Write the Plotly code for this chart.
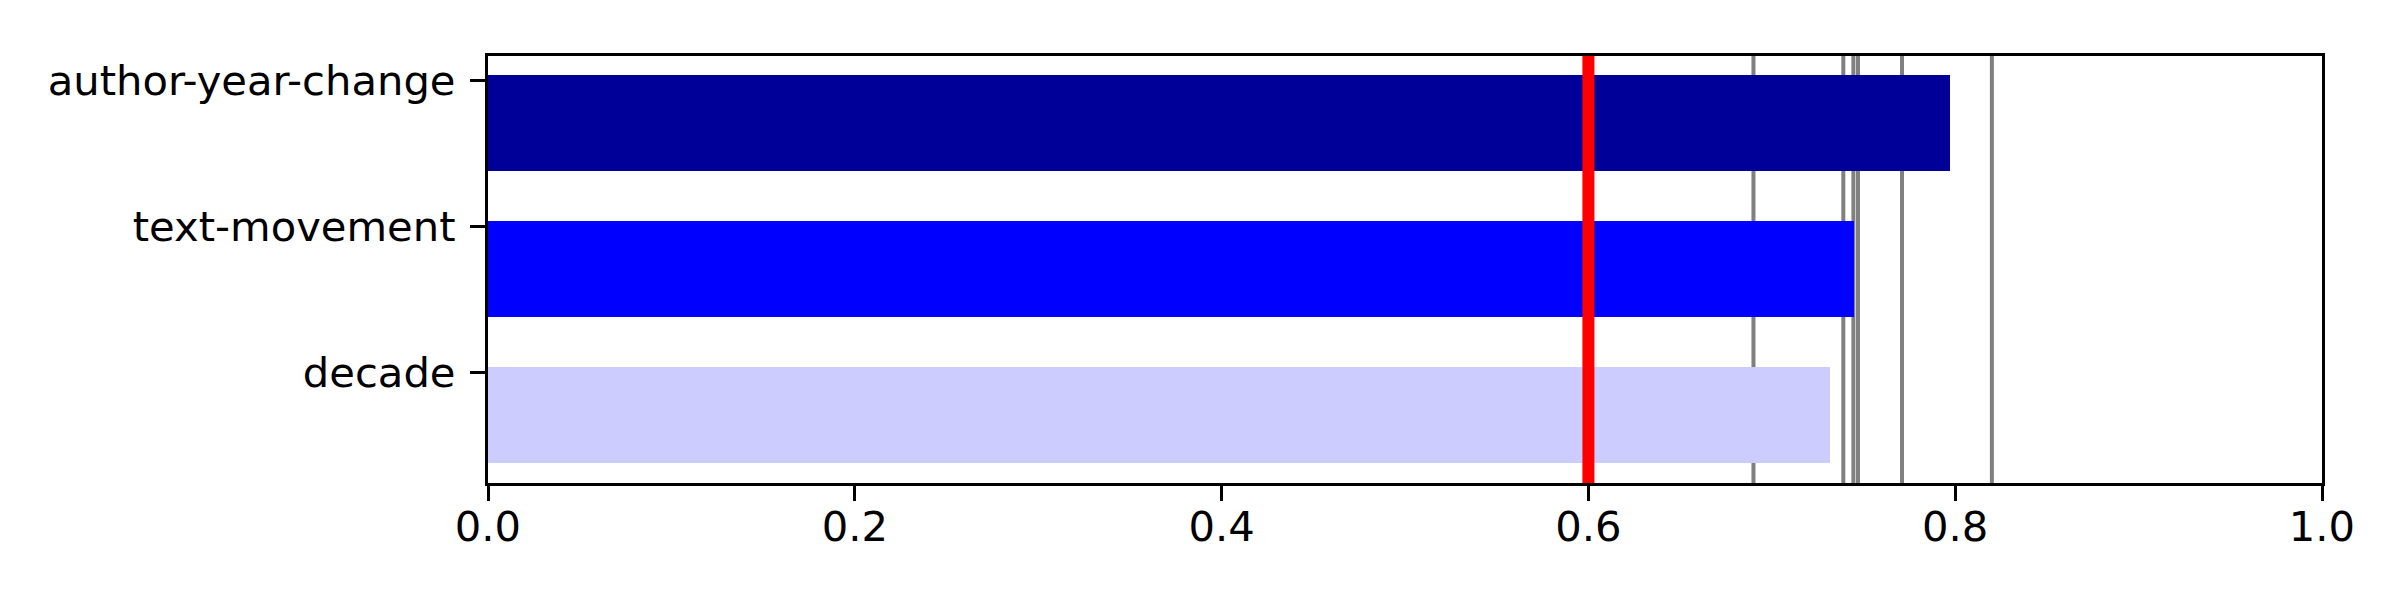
import plotly.graph_objects as go

categories = ["decade", "text-movement", "author-year-change"]
values = [0.732, 0.745, 0.797]
bar_colors = ["#ccccff", "#0000ff", "#000099"]
gray_lines = [0.69, 0.739, 0.7445, 0.747, 0.771, 0.82]
red_line = 0.6
x_ticks = [0.0, 0.2, 0.4, 0.6, 0.8, 1.0]
x_tick_labels = ["0.0", "0.2", "0.4", "0.6", "0.8", "1.0"]

fig = go.Figure()
fig.add_trace(go.Bar(
    x=values, y=categories, orientation="h",
    marker=dict(color=bar_colors, line=dict(width=0)),
    width=0.662, offset=-0.625, showlegend=False,
))

shapes = []
for gx in gray_lines:
    shapes.append(dict(type="line", xref="x", yref="paper", x0=gx, x1=gx, y0=0, y1=1,
                       line=dict(color="#808080", width=4), layer="below"))
shapes.append(dict(type="line", xref="x", yref="paper", x0=red_line, x1=red_line, y0=0, y1=1,
                   line=dict(color="#ff0000", width=12), layer="above"))

fig.update_layout(
    width=2400, height=600,
    margin=dict(l=480, r=86, t=48, b=125, pad=0),
    paper_bgcolor="white", plot_bgcolor="white",
    font=dict(family="DejaVu Sans", size=41.7, color="black"),
    shapes=shapes,
    bargap=0,
)
fig.update_xaxes(
    range=[0, 1], tickvals=x_ticks, ticktext=x_tick_labels,
    showgrid=False, zeroline=False,
    showline=True, linecolor="black", linewidth=3.3, mirror=True,
    ticks="outside", ticklen=15, tickwidth=3.3, tickcolor="black",
    ticklabelstandoff=-10,
)
fig.update_yaxes(
    type="category", categoryorder="array", categoryarray=categories,
    range=[-0.760, 2.166],
    showgrid=False, zeroline=False,
    showline=True, linecolor="black", linewidth=3.3, mirror=True,
    ticks="outside", ticklen=15, tickwidth=3.3, tickcolor="black",
    ticklabelstandoff=6,
)

fig.write_html("out.html")
